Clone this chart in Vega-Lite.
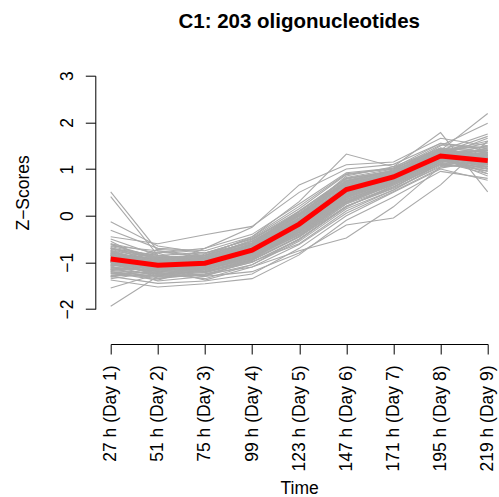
{
"$schema": "https://vega.github.io/schema/vega-lite/v6.json",
"width": 377, "height": 233.3,
"autosize": {"type": "none"},
"padding": {"left": 110.7, "top": 75.7, "right": 11.3, "bottom": 188},
"background": "white",
"title": {"text": "C1: 203 oligonucleotides", "frame": "group", "anchor": "middle", "baseline": "alphabetic", "offset": 22, "font": "Liberation Sans", "fontSize": 20.5, "fontWeight": "bold", "color": "black"},
"datasets": {
"lines": [
{"g":1,"t":1,"z":0.51},{"g":1,"t":2,"z":-0.75},{"g":1,"t":3,"z":-0.85},{"g":1,"t":4,"z":-0.55},{"g":1,"t":5,"z":0.05},{"g":1,"t":6,"z":0.70},{"g":1,"t":7,"z":0.90},{"g":1,"t":8,"z":1.30},{"g":1,"t":9,"z":1.05},
{"g":2,"t":1,"z":0.41},{"g":2,"t":2,"z":-0.85},{"g":2,"t":3,"z":-0.95},{"g":2,"t":4,"z":-0.65},{"g":2,"t":5,"z":-0.10},{"g":2,"t":6,"z":0.55},{"g":2,"t":7,"z":0.85},{"g":2,"t":8,"z":1.20},{"g":2,"t":9,"z":1.00},
{"g":3,"t":1,"z":-0.13},{"g":3,"t":2,"z":-0.65},{"g":3,"t":3,"z":-0.80},{"g":3,"t":4,"z":-0.50},{"g":3,"t":5,"z":0.10},{"g":3,"t":6,"z":0.80},{"g":3,"t":7,"z":0.95},{"g":3,"t":8,"z":1.35},{"g":3,"t":9,"z":1.15},
{"g":4,"t":1,"z":-0.31},{"g":4,"t":2,"z":-0.70},{"g":4,"t":3,"z":-0.75},{"g":4,"t":4,"z":-0.45},{"g":4,"t":5,"z":0.20},{"g":4,"t":6,"z":0.90},{"g":4,"t":7,"z":1.00},{"g":4,"t":8,"z":1.40},{"g":4,"t":9,"z":1.25},
{"g":5,"t":1,"z":-1.94},{"g":5,"t":2,"z":-1.30},{"g":5,"t":3,"z":-1.10},{"g":5,"t":4,"z":-0.80},{"g":5,"t":5,"z":-0.30},{"g":5,"t":6,"z":0.40},{"g":5,"t":7,"z":0.75},{"g":5,"t":8,"z":1.25},{"g":5,"t":9,"z":1.20},
{"g":6,"t":1,"z":-1.55},{"g":6,"t":2,"z":-1.25},{"g":6,"t":3,"z":-1.20},{"g":6,"t":4,"z":-0.95},{"g":6,"t":5,"z":-0.45},{"g":6,"t":6,"z":0.20},{"g":6,"t":7,"z":0.60},{"g":6,"t":8,"z":1.15},{"g":6,"t":9,"z":1.30},
{"g":7,"t":1,"z":-0.70},{"g":7,"t":2,"z":-0.90},{"g":7,"t":3,"z":-0.85},{"g":7,"t":4,"z":-0.45},{"g":7,"t":5,"z":0.30},{"g":7,"t":6,"z":1.32},{"g":7,"t":7,"z":1.05},{"g":7,"t":8,"z":1.45},{"g":7,"t":9,"z":1.35},
{"g":8,"t":1,"z":-1.20},{"g":8,"t":2,"z":-1.35},{"g":8,"t":3,"z":-1.25},{"g":8,"t":4,"z":-1.10},{"g":8,"t":5,"z":-0.75},{"g":8,"t":6,"z":-0.48},{"g":8,"t":7,"z":0.19},{"g":8,"t":8,"z":1.05},{"g":8,"t":9,"z":1.40},
{"g":9,"t":1,"z":-1.10},{"g":9,"t":2,"z":-1.40},{"g":9,"t":3,"z":-1.30},{"g":9,"t":4,"z":-1.20},{"g":9,"t":5,"z":-0.80},{"g":9,"t":6,"z":-0.20},{"g":9,"t":7,"z":-0.05},{"g":9,"t":8,"z":0.66},{"g":9,"t":9,"z":1.60},
{"g":10,"t":1,"z":-1.00},{"g":10,"t":2,"z":-1.10},{"g":10,"t":3,"z":-1.05},{"g":10,"t":4,"z":-0.80},{"g":10,"t":5,"z":-0.25},{"g":10,"t":6,"z":0.50},{"g":10,"t":7,"z":0.85},{"g":10,"t":8,"z":1.40},{"g":10,"t":9,"z":2.19},
{"g":11,"t":1,"z":-0.85},{"g":11,"t":2,"z":-1.00},{"g":11,"t":3,"z":-0.95},{"g":11,"t":4,"z":-0.70},{"g":11,"t":5,"z":-0.10},{"g":11,"t":6,"z":0.60},{"g":11,"t":7,"z":0.90},{"g":11,"t":8,"z":1.50},{"g":11,"t":9,"z":1.98},
{"g":12,"t":1,"z":-0.80},{"g":12,"t":2,"z":-0.95},{"g":12,"t":3,"z":-0.90},{"g":12,"t":4,"z":-0.55},{"g":12,"t":5,"z":0.00},{"g":12,"t":6,"z":0.85},{"g":12,"t":7,"z":1.05},{"g":12,"t":8,"z":1.78},{"g":12,"t":9,"z":0.51},
{"g":13,"t":1,"z":-0.60},{"g":13,"t":2,"z":-0.80},{"g":13,"t":3,"z":-0.70},{"g":13,"t":4,"z":-0.25},{"g":13,"t":5,"z":0.66},{"g":13,"t":6,"z":1.09},{"g":13,"t":7,"z":1.15},{"g":13,"t":8,"z":1.66},{"g":13,"t":9,"z":1.50},
{"g":14,"t":1,"z":-0.45},{"g":14,"t":2,"z":-0.60},{"g":14,"t":3,"z":-0.41},{"g":14,"t":4,"z":-0.23},{"g":14,"t":5,"z":0.50},{"g":14,"t":6,"z":1.00},{"g":14,"t":7,"z":1.10},{"g":14,"t":8,"z":1.55},{"g":14,"t":9,"z":1.45},
{"g":15,"t":1,"z":-1.38},{"g":15,"t":2,"z":-1.53},{"g":15,"t":3,"z":-1.46},{"g":15,"t":4,"z":-1.35},{"g":15,"t":5,"z":-0.84},{"g":15,"t":6,"z":-0.10},{"g":15,"t":7,"z":0.40},{"g":15,"t":8,"z":0.95},{"g":15,"t":9,"z":0.80},
{"g":16,"t":1,"z":-1.30},{"g":16,"t":2,"z":-1.45},{"g":16,"t":3,"z":-1.40},{"g":16,"t":4,"z":-1.25},{"g":16,"t":5,"z":-0.70},{"g":16,"t":6,"z":0.00},{"g":16,"t":7,"z":0.50},{"g":16,"t":8,"z":1.00},{"g":16,"t":9,"z":0.76},
{"g":17,"t":1,"z":-0.70},{"g":17,"t":2,"z":-0.85},{"g":17,"t":3,"z":-0.80},{"g":17,"t":4,"z":-0.50},{"g":17,"t":5,"z":0.05},{"g":17,"t":6,"z":0.75},{"g":17,"t":7,"z":0.95},{"g":17,"t":8,"z":1.40},{"g":17,"t":9,"z":1.30},
{"g":18,"t":1,"z":-0.75},{"g":18,"t":2,"z":-0.90},{"g":18,"t":3,"z":-0.88},{"g":18,"t":4,"z":-0.60},{"g":18,"t":5,"z":-0.05},{"g":18,"t":6,"z":0.70},{"g":18,"t":7,"z":0.92},{"g":18,"t":8,"z":1.35},{"g":18,"t":9,"z":1.40},
{"g":19,"t":1,"z":-0.80},{"g":19,"t":2,"z":-0.95},{"g":19,"t":3,"z":-0.92},{"g":19,"t":4,"z":-0.65},{"g":19,"t":5,"z":-0.10},{"g":19,"t":6,"z":0.62},{"g":19,"t":7,"z":0.88},{"g":19,"t":8,"z":1.32},{"g":19,"t":9,"z":1.25},
{"g":20,"t":1,"z":-0.85},{"g":20,"t":2,"z":-1.00},{"g":20,"t":3,"z":-0.98},{"g":20,"t":4,"z":-0.70},{"g":20,"t":5,"z":-0.15},{"g":20,"t":6,"z":0.58},{"g":20,"t":7,"z":0.85},{"g":20,"t":8,"z":1.30},{"g":20,"t":9,"z":1.20},
{"g":21,"t":1,"z":-0.88},{"g":21,"t":2,"z":-1.02},{"g":21,"t":3,"z":-1.00},{"g":21,"t":4,"z":-0.72},{"g":21,"t":5,"z":-0.20},{"g":21,"t":6,"z":0.52},{"g":21,"t":7,"z":0.80},{"g":21,"t":8,"z":1.25},{"g":21,"t":9,"z":1.10},
{"g":22,"t":1,"z":-0.92},{"g":22,"t":2,"z":-1.05},{"g":22,"t":3,"z":-1.03},{"g":22,"t":4,"z":-0.76},{"g":22,"t":5,"z":-0.22},{"g":22,"t":6,"z":0.50},{"g":22,"t":7,"z":0.82},{"g":22,"t":8,"z":1.28},{"g":22,"t":9,"z":1.15},
{"g":23,"t":1,"z":-0.95},{"g":23,"t":2,"z":-1.08},{"g":23,"t":3,"z":-1.05},{"g":23,"t":4,"z":-0.78},{"g":23,"t":5,"z":-0.25},{"g":23,"t":6,"z":0.45},{"g":23,"t":7,"z":0.78},{"g":23,"t":8,"z":1.22},{"g":23,"t":9,"z":1.05},
{"g":24,"t":1,"z":-1.00},{"g":24,"t":2,"z":-1.12},{"g":24,"t":3,"z":-1.08},{"g":24,"t":4,"z":-0.82},{"g":24,"t":5,"z":-0.30},{"g":24,"t":6,"z":0.40},{"g":24,"t":7,"z":0.75},{"g":24,"t":8,"z":1.20},{"g":24,"t":9,"z":1.00},
{"g":25,"t":1,"z":-1.05},{"g":25,"t":2,"z":-1.15},{"g":25,"t":3,"z":-1.12},{"g":25,"t":4,"z":-0.86},{"g":25,"t":5,"z":-0.35},{"g":25,"t":6,"z":0.35},{"g":25,"t":7,"z":0.70},{"g":25,"t":8,"z":1.18},{"g":25,"t":9,"z":0.95},
{"g":26,"t":1,"z":-1.10},{"g":26,"t":2,"z":-1.20},{"g":26,"t":3,"z":-1.15},{"g":26,"t":4,"z":-0.90},{"g":26,"t":5,"z":-0.40},{"g":26,"t":6,"z":0.30},{"g":26,"t":7,"z":0.68},{"g":26,"t":8,"z":1.15},{"g":26,"t":9,"z":0.90},
{"g":27,"t":1,"z":-1.15},{"g":27,"t":2,"z":-1.25},{"g":27,"t":3,"z":-1.20},{"g":27,"t":4,"z":-0.95},{"g":27,"t":5,"z":-0.45},{"g":27,"t":6,"z":0.25},{"g":27,"t":7,"z":0.62},{"g":27,"t":8,"z":1.10},{"g":27,"t":9,"z":1.00},
{"g":28,"t":1,"z":-1.20},{"g":28,"t":2,"z":-1.30},{"g":28,"t":3,"z":-1.25},{"g":28,"t":4,"z":-1.00},{"g":28,"t":5,"z":-0.50},{"g":28,"t":6,"z":0.20},{"g":28,"t":7,"z":0.58},{"g":28,"t":8,"z":1.05},{"g":28,"t":9,"z":1.10},
{"g":29,"t":1,"z":-1.25},{"g":29,"t":2,"z":-1.32},{"g":29,"t":3,"z":-1.28},{"g":29,"t":4,"z":-1.05},{"g":29,"t":5,"z":-0.55},{"g":29,"t":6,"z":0.15},{"g":29,"t":7,"z":0.55},{"g":29,"t":8,"z":1.12},{"g":29,"t":9,"z":1.20},
{"g":30,"t":1,"z":-0.60},{"g":30,"t":2,"z":-0.95},{"g":30,"t":3,"z":-1.10},{"g":30,"t":4,"z":-0.80},{"g":30,"t":5,"z":-0.15},{"g":30,"t":6,"z":0.65},{"g":30,"t":7,"z":0.90},{"g":30,"t":8,"z":1.30},{"g":30,"t":9,"z":1.35},
{"g":31,"t":1,"z":-0.55},{"g":31,"t":2,"z":-1.05},{"g":31,"t":3,"z":-1.15},{"g":31,"t":4,"z":-0.90},{"g":31,"t":5,"z":-0.30},{"g":31,"t":6,"z":0.45},{"g":31,"t":7,"z":0.80},{"g":31,"t":8,"z":1.25},{"g":31,"t":9,"z":1.45},
{"g":32,"t":1,"z":-0.50},{"g":32,"t":2,"z":-0.85},{"g":32,"t":3,"z":-0.95},{"g":32,"t":4,"z":-0.70},{"g":32,"t":5,"z":-0.05},{"g":32,"t":6,"z":0.72},{"g":32,"t":7,"z":0.98},{"g":32,"t":8,"z":1.38},{"g":32,"t":9,"z":1.25},
{"g":33,"t":1,"z":-1.30},{"g":33,"t":2,"z":-1.10},{"g":33,"t":3,"z":-0.95},{"g":33,"t":4,"z":-0.60},{"g":33,"t":5,"z":0.10},{"g":33,"t":6,"z":0.80},{"g":33,"t":7,"z":0.95},{"g":33,"t":8,"z":1.35},{"g":33,"t":9,"z":1.10},
{"g":34,"t":1,"z":-1.35},{"g":34,"t":2,"z":-1.20},{"g":34,"t":3,"z":-1.05},{"g":34,"t":4,"z":-0.75},{"g":34,"t":5,"z":-0.20},{"g":34,"t":6,"z":0.48},{"g":34,"t":7,"z":0.82},{"g":34,"t":8,"z":1.28},{"g":34,"t":9,"z":1.30},
{"g":35,"t":1,"z":-1.00},{"g":35,"t":2,"z":-0.80},{"g":35,"t":3,"z":-1.10},{"g":35,"t":4,"z":-0.85},{"g":35,"t":5,"z":-0.35},{"g":35,"t":6,"z":0.30},{"g":35,"t":7,"z":0.72},{"g":35,"t":8,"z":1.22},{"g":35,"t":9,"z":1.35},
{"g":36,"t":1,"z":-0.90},{"g":36,"t":2,"z":-1.30},{"g":36,"t":3,"z":-1.00},{"g":36,"t":4,"z":-0.62},{"g":36,"t":5,"z":0.00},{"g":36,"t":6,"z":0.68},{"g":36,"t":7,"z":0.88},{"g":36,"t":8,"z":1.32},{"g":36,"t":9,"z":1.15},
{"g":37,"t":1,"z":-0.82},{"g":37,"t":2,"z":-1.18},{"g":37,"t":3,"z":-1.30},{"g":37,"t":4,"z":-0.95},{"g":37,"t":5,"z":-0.28},{"g":37,"t":6,"z":0.42},{"g":37,"t":7,"z":0.78},{"g":37,"t":8,"z":1.20},{"g":37,"t":9,"z":1.05},
{"g":38,"t":1,"z":-1.08},{"g":38,"t":2,"z":-0.95},{"g":38,"t":3,"z":-0.85},{"g":38,"t":4,"z":-0.55},{"g":38,"t":5,"z":0.00},{"g":38,"t":6,"z":0.82},{"g":38,"t":7,"z":1.00},{"g":38,"t":8,"z":1.45},{"g":38,"t":9,"z":1.20},
{"g":39,"t":1,"z":-0.98},{"g":39,"t":2,"z":-1.25},{"g":39,"t":3,"z":-1.35},{"g":39,"t":4,"z":-1.05},{"g":39,"t":5,"z":-0.50},{"g":39,"t":6,"z":0.18},{"g":39,"t":7,"z":0.65},{"g":39,"t":8,"z":1.15},{"g":39,"t":9,"z":1.25},
{"g":40,"t":1,"z":-0.65},{"g":40,"t":2,"z":-0.75},{"g":40,"t":3,"z":-0.90},{"g":40,"t":4,"z":-0.62},{"g":40,"t":5,"z":-0.05},{"g":40,"t":6,"z":0.60},{"g":40,"t":7,"z":0.85},{"g":40,"t":8,"z":1.28},{"g":40,"t":9,"z":1.40},
{"g":41,"t":1,"z":-0.78},{"g":41,"t":2,"z":-1.10},{"g":41,"t":3,"z":-0.70},{"g":41,"t":4,"z":-0.40},{"g":41,"t":5,"z":0.25},{"g":41,"t":6,"z":0.92},{"g":41,"t":7,"z":1.02},{"g":41,"t":8,"z":1.42},{"g":41,"t":9,"z":1.30},
{"g":42,"t":1,"z":-1.18},{"g":42,"t":2,"z":-1.05},{"g":42,"t":3,"z":-1.12},{"g":42,"t":4,"z":-0.88},{"g":42,"t":5,"z":-0.42},{"g":42,"t":6,"z":0.28},{"g":42,"t":7,"z":0.66},{"g":42,"t":8,"z":1.10},{"g":42,"t":9,"z":1.15},
{"g":43,"t":1,"z":-1.22},{"g":43,"t":2,"z":-1.38},{"g":43,"t":3,"z":-1.10},{"g":43,"t":4,"z":-0.82},{"g":43,"t":5,"z":-0.25},{"g":43,"t":6,"z":0.50},{"g":43,"t":7,"z":0.78},{"g":43,"t":8,"z":1.22},{"g":43,"t":9,"z":1.00},
{"g":44,"t":1,"z":-0.72},{"g":44,"t":2,"z":-0.98},{"g":44,"t":3,"z":-1.05},{"g":44,"t":4,"z":-0.78},{"g":44,"t":5,"z":-0.18},{"g":44,"t":6,"z":0.55},{"g":44,"t":7,"z":0.85},{"g":44,"t":8,"z":1.35},{"g":44,"t":9,"z":1.70},
{"g":45,"t":1,"z":-0.95},{"g":45,"t":2,"z":-0.88},{"g":45,"t":3,"z":-0.98},{"g":45,"t":4,"z":-0.68},{"g":45,"t":5,"z":-0.12},{"g":45,"t":6,"z":0.62},{"g":45,"t":7,"z":0.90},{"g":45,"t":8,"z":1.30},{"g":45,"t":9,"z":0.90},
{"g":46,"t":1,"z":-1.05},{"g":46,"t":2,"z":-1.22},{"g":46,"t":3,"z":-0.92},{"g":46,"t":4,"z":-0.70},{"g":46,"t":5,"z":-0.08},{"g":46,"t":6,"z":0.60},{"g":46,"t":7,"z":0.82},{"g":46,"t":8,"z":1.25},{"g":46,"t":9,"z":1.35},
{"g":47,"t":1,"z":-0.85},{"g":47,"t":2,"z":-1.15},{"g":47,"t":3,"z":-1.18},{"g":47,"t":4,"z":-0.85},{"g":47,"t":5,"z":-0.32},{"g":47,"t":6,"z":0.38},{"g":47,"t":7,"z":0.72},{"g":47,"t":8,"z":1.18},{"g":47,"t":9,"z":1.25},
{"g":48,"t":1,"z":-1.12},{"g":48,"t":2,"z":-0.98},{"g":48,"t":3,"z":-1.00},{"g":48,"t":4,"z":-0.65},{"g":48,"t":5,"z":-0.05},{"g":48,"t":6,"z":0.70},{"g":48,"t":7,"z":0.92},{"g":48,"t":8,"z":1.38},{"g":48,"t":9,"z":1.10},
{"g":49,"t":1,"z":-0.75},{"g":49,"t":2,"z":-1.08},{"g":49,"t":3,"z":-1.00},{"g":49,"t":4,"z":-0.72},{"g":49,"t":5,"z":-0.20},{"g":49,"t":6,"z":0.52},{"g":49,"t":7,"z":0.88},{"g":49,"t":8,"z":1.32},{"g":49,"t":9,"z":1.20},
{"g":50,"t":1,"z":-1.28},{"g":50,"t":2,"z":-1.28},{"g":50,"t":3,"z":-1.22},{"g":50,"t":4,"z":-0.98},{"g":50,"t":5,"z":-0.60},{"g":50,"t":6,"z":0.10},{"g":50,"t":7,"z":0.55},{"g":50,"t":8,"z":1.08},{"g":50,"t":9,"z":1.05},
{"g":51,"t":1,"z":-0.90},{"g":51,"t":2,"z":-0.78},{"g":51,"t":3,"z":-0.88},{"g":51,"t":4,"z":-0.52},{"g":51,"t":5,"z":0.08},{"g":51,"t":6,"z":0.78},{"g":51,"t":7,"z":0.98},{"g":51,"t":8,"z":1.52},{"g":51,"t":9,"z":1.35},
{"g":52,"t":1,"z":-1.02},{"g":52,"t":2,"z":-1.12},{"g":52,"t":3,"z":-1.38},{"g":52,"t":4,"z":-1.10},{"g":52,"t":5,"z":-0.62},{"g":52,"t":6,"z":0.05},{"g":52,"t":7,"z":0.52},{"g":52,"t":8,"z":1.02},{"g":52,"t":9,"z":1.20},
{"g":53,"t":1,"z":-0.68},{"g":53,"t":2,"z":-1.02},{"g":53,"t":3,"z":-0.96},{"g":53,"t":4,"z":-0.66},{"g":53,"t":5,"z":-0.10},{"g":53,"t":6,"z":0.66},{"g":53,"t":7,"z":0.90},{"g":53,"t":8,"z":1.36},{"g":53,"t":9,"z":1.60},
{"g":54,"t":1,"z":-1.15},{"g":54,"t":2,"z":-1.02},{"g":54,"t":3,"z":-0.90},{"g":54,"t":4,"z":-0.75},{"g":54,"t":5,"z":-0.22},{"g":54,"t":6,"z":0.46},{"g":54,"t":7,"z":0.78},{"g":54,"t":8,"z":1.26},{"g":54,"t":9,"z":1.45},
{"g":55,"t":1,"z":-0.98},{"g":55,"t":2,"z":-1.20},{"g":55,"t":3,"z":-1.08},{"g":55,"t":4,"z":-0.86},{"g":55,"t":5,"z":-0.38},{"g":55,"t":6,"z":0.32},{"g":55,"t":7,"z":0.74},{"g":55,"t":8,"z":1.30},{"g":55,"t":9,"z":1.18},
{"g":56,"t":1,"z":-0.88},{"g":56,"t":2,"z":-0.92},{"g":56,"t":3,"z":-1.02},{"g":56,"t":4,"z":-0.74},{"g":56,"t":5,"z":-0.16},{"g":56,"t":6,"z":0.56},{"g":56,"t":7,"z":0.84},{"g":56,"t":8,"z":1.24},{"g":56,"t":9,"z":0.85},
{"g":57,"t":1,"z":-0.62},{"g":57,"t":2,"z":-0.90},{"g":57,"t":3,"z":-1.20},{"g":57,"t":4,"z":-0.92},{"g":57,"t":5,"z":-0.35},{"g":57,"t":6,"z":0.35},{"g":57,"t":7,"z":0.70},{"g":57,"t":8,"z":1.20},{"g":57,"t":9,"z":1.30},
{"g":58,"t":1,"z":-1.32},{"g":58,"t":2,"z":-1.15},{"g":58,"t":3,"z":-1.00},{"g":58,"t":4,"z":-0.70},{"g":58,"t":5,"z":-0.12},{"g":58,"t":6,"z":0.62},{"g":58,"t":7,"z":0.86},{"g":58,"t":8,"z":1.30},{"g":58,"t":9,"z":1.25},
{"g":59,"t":1,"z":-0.80},{"g":59,"t":2,"z":-1.35},{"g":59,"t":3,"z":-1.12},{"g":59,"t":4,"z":-0.80},{"g":59,"t":5,"z":-0.22},{"g":59,"t":6,"z":0.48},{"g":59,"t":7,"z":0.80},{"g":59,"t":8,"z":1.24},{"g":59,"t":9,"z":1.12},
{"g":60,"t":1,"z":-1.08},{"g":60,"t":2,"z":-0.72},{"g":60,"t":3,"z":-0.80},{"g":60,"t":4,"z":-0.58},{"g":60,"t":5,"z":0.02},{"g":60,"t":6,"z":0.74},{"g":60,"t":7,"z":0.95},{"g":60,"t":8,"z":1.40},{"g":60,"t":9,"z":1.75},
{"g":61,"t":1,"z":-0.92},{"g":61,"t":2,"z":-1.18},{"g":61,"t":3,"z":-0.82},{"g":61,"t":4,"z":-0.48},{"g":61,"t":5,"z":0.15},{"g":61,"t":6,"z":0.88},{"g":61,"t":7,"z":1.02},{"g":61,"t":8,"z":1.55},{"g":61,"t":9,"z":1.40},
{"g":62,"t":1,"z":-0.96},{"g":62,"t":2,"z":-1.10},{"g":62,"t":3,"z":-1.06},{"g":62,"t":4,"z":-0.80},{"g":62,"t":5,"z":-0.24},{"g":62,"t":6,"z":0.52},{"g":62,"t":7,"z":0.82},{"g":62,"t":8,"z":1.30},{"g":62,"t":9,"z":1.22},
{"g":63,"t":1,"z":-0.90},{"g":63,"t":2,"z":-1.04},{"g":63,"t":3,"z":-0.98},{"g":63,"t":4,"z":-0.70},{"g":63,"t":5,"z":-0.14},{"g":63,"t":6,"z":0.60},{"g":63,"t":7,"z":0.86},{"g":63,"t":8,"z":1.30},{"g":63,"t":9,"z":1.16},
{"g":64,"t":1,"z":-1.04},{"g":64,"t":2,"z":-1.14},{"g":64,"t":3,"z":-1.10},{"g":64,"t":4,"z":-0.84},{"g":64,"t":5,"z":-0.28},{"g":64,"t":6,"z":0.46},{"g":64,"t":7,"z":0.78},{"g":64,"t":8,"z":1.24},{"g":64,"t":9,"z":1.12},
{"g":65,"t":1,"z":-0.84},{"g":65,"t":2,"z":-0.98},{"g":65,"t":3,"z":-0.96},{"g":65,"t":4,"z":-0.68},{"g":65,"t":5,"z":-0.12},{"g":65,"t":6,"z":0.64},{"g":65,"t":7,"z":0.88},{"g":65,"t":8,"z":1.34},{"g":65,"t":9,"z":1.28},
{"g":66,"t":1,"z":-1.12},{"g":66,"t":2,"z":-1.18},{"g":66,"t":3,"z":-1.14},{"g":66,"t":4,"z":-0.90},{"g":66,"t":5,"z":-0.36},{"g":66,"t":6,"z":0.38},{"g":66,"t":7,"z":0.74},{"g":66,"t":8,"z":1.22},{"g":66,"t":9,"z":1.26},
{"g":67,"t":1,"z":-0.78},{"g":67,"t":2,"z":-0.96},{"g":67,"t":3,"z":-0.94},{"g":67,"t":4,"z":-0.64},{"g":67,"t":5,"z":-0.06},{"g":67,"t":6,"z":0.68},{"g":67,"t":7,"z":0.92},{"g":67,"t":8,"z":1.36},{"g":67,"t":9,"z":1.32},
{"g":68,"t":1,"z":-1.18},{"g":68,"t":2,"z":-1.24},{"g":68,"t":3,"z":-1.18},{"g":68,"t":4,"z":-0.94},{"g":68,"t":5,"z":-0.44},{"g":68,"t":6,"z":0.30},{"g":68,"t":7,"z":0.70},{"g":68,"t":8,"z":1.18},{"g":68,"t":9,"z":1.08},
{"g":69,"t":1,"z":-0.70},{"g":69,"t":2,"z":-0.92},{"g":69,"t":3,"z":-0.90},{"g":69,"t":4,"z":-0.60},{"g":69,"t":5,"z":0.02},{"g":69,"t":6,"z":0.74},{"g":69,"t":7,"z":0.94},{"g":69,"t":8,"z":1.38},{"g":69,"t":9,"z":1.36},
{"g":70,"t":1,"z":-0.94},{"g":70,"t":2,"z":-1.14},{"g":70,"t":3,"z":-1.12},{"g":70,"t":4,"z":-0.82},{"g":70,"t":5,"z":-0.26},{"g":70,"t":6,"z":0.50},{"g":70,"t":7,"z":0.80},{"g":70,"t":8,"z":1.26},{"g":70,"t":9,"z":1.30},
{"g":71,"t":1,"z":-1.06},{"g":71,"t":2,"z":-1.02},{"g":71,"t":3,"z":-0.98},{"g":71,"t":4,"z":-0.72},{"g":71,"t":5,"z":-0.16},{"g":71,"t":6,"z":0.58},{"g":71,"t":7,"z":0.86},{"g":71,"t":8,"z":1.32},{"g":71,"t":9,"z":1.10},
{"g":72,"t":1,"z":-0.86},{"g":72,"t":2,"z":-1.08},{"g":72,"t":3,"z":-1.04},{"g":72,"t":4,"z":-0.76},{"g":72,"t":5,"z":-0.22},{"g":72,"t":6,"z":0.54},{"g":72,"t":7,"z":0.84},{"g":72,"t":8,"z":1.28},{"g":72,"t":9,"z":1.42},
{"g":73,"t":1,"z":-1.00},{"g":73,"t":2,"z":-1.00},{"g":73,"t":3,"z":-0.94},{"g":73,"t":4,"z":-0.66},{"g":73,"t":5,"z":-0.08},{"g":73,"t":6,"z":0.64},{"g":73,"t":7,"z":0.90},{"g":73,"t":8,"z":1.34},{"g":73,"t":9,"z":1.28},
{"g":74,"t":1,"z":-0.76},{"g":74,"t":2,"z":-1.12},{"g":74,"t":3,"z":-1.08},{"g":74,"t":4,"z":-0.84},{"g":74,"t":5,"z":-0.30},{"g":74,"t":6,"z":0.44},{"g":74,"t":7,"z":0.78},{"g":74,"t":8,"z":1.24},{"g":74,"t":9,"z":1.18},
{"g":75,"t":1,"z":-1.14},{"g":75,"t":2,"z":-1.16},{"g":75,"t":3,"z":-1.06},{"g":75,"t":4,"z":-0.78},{"g":75,"t":5,"z":-0.20},{"g":75,"t":6,"z":0.54},{"g":75,"t":7,"z":0.82},{"g":75,"t":8,"z":1.28},{"g":75,"t":9,"z":1.50},
{"g":76,"t":1,"z":-0.82},{"g":76,"t":2,"z":-0.94},{"g":76,"t":3,"z":-1.08},{"g":76,"t":4,"z":-0.80},{"g":76,"t":5,"z":-0.26},{"g":76,"t":6,"z":0.48},{"g":76,"t":7,"z":0.80},{"g":76,"t":8,"z":1.30},{"g":76,"t":9,"z":1.02},
{"g":77,"t":1,"z":-1.24},{"g":77,"t":2,"z":-1.22},{"g":77,"t":3,"z":-1.16},{"g":77,"t":4,"z":-0.92},{"g":77,"t":5,"z":-0.40},{"g":77,"t":6,"z":0.34},{"g":77,"t":7,"z":0.72},{"g":77,"t":8,"z":1.20},{"g":77,"t":9,"z":1.22},
{"g":78,"t":1,"z":-0.66},{"g":78,"t":2,"z":-0.88},{"g":78,"t":3,"z":-0.86},{"g":78,"t":4,"z":-0.58},{"g":78,"t":5,"z":0.04},{"g":78,"t":6,"z":0.76},{"g":78,"t":7,"z":0.96},{"g":78,"t":8,"z":1.42},{"g":78,"t":9,"z":1.48},
{"g":79,"t":1,"z":-0.98},{"g":79,"t":2,"z":-1.06},{"g":79,"t":3,"z":-1.22},{"g":79,"t":4,"z":-0.96},{"g":79,"t":5,"z":-0.46},{"g":79,"t":6,"z":0.26},{"g":79,"t":7,"z":0.68},{"g":79,"t":8,"z":1.16},{"g":79,"t":9,"z":1.14},
{"g":80,"t":1,"z":-1.02},{"g":80,"t":2,"z":-1.26},{"g":80,"t":3,"z":-1.14},{"g":80,"t":4,"z":-0.88},{"g":80,"t":5,"z":-0.32},{"g":80,"t":6,"z":0.42},{"g":80,"t":7,"z":0.76},{"g":80,"t":8,"z":1.22},{"g":80,"t":9,"z":1.34},
{"g":81,"t":1,"z":-0.88},{"g":81,"t":2,"z":-0.86},{"g":81,"t":3,"z":-0.92},{"g":81,"t":4,"z":-0.62},{"g":81,"t":5,"z":-0.02},{"g":81,"t":6,"z":0.72},{"g":81,"t":7,"z":0.94},{"g":81,"t":8,"z":1.40},{"g":81,"t":9,"z":1.24},
{"g":82,"t":1,"z":-1.16},{"g":82,"t":2,"z":-1.10},{"g":82,"t":3,"z":-1.02},{"g":82,"t":4,"z":-0.74},{"g":82,"t":5,"z":-0.18},{"g":82,"t":6,"z":0.56},{"g":82,"t":7,"z":0.84},{"g":82,"t":8,"z":1.34},{"g":82,"t":9,"z":1.56},
{"g":83,"t":1,"z":-0.74},{"g":83,"t":2,"z":-1.04},{"g":83,"t":3,"z":-1.14},{"g":83,"t":4,"z":-0.86},{"g":83,"t":5,"z":-0.34},{"g":83,"t":6,"z":0.40},{"g":83,"t":7,"z":0.76},{"g":83,"t":8,"z":1.26},{"g":83,"t":9,"z":1.08},
{"g":84,"t":1,"z":-0.96},{"g":84,"t":2,"z":-0.96},{"g":84,"t":3,"z":-0.90},{"g":84,"t":4,"z":-0.60},{"g":84,"t":5,"z":0.00},{"g":84,"t":6,"z":0.70},{"g":84,"t":7,"z":0.92},{"g":84,"t":8,"z":1.44},{"g":84,"t":9,"z":1.38},
{"g":85,"t":1,"z":-1.08},{"g":85,"t":2,"z":-1.30},{"g":85,"t":3,"z":-1.26},{"g":85,"t":4,"z":-1.00},{"g":85,"t":5,"z":-0.52},{"g":85,"t":6,"z":0.20},{"g":85,"t":7,"z":0.62},{"g":85,"t":8,"z":1.12},{"g":85,"t":9,"z":0.96},
{"g":86,"t":1,"z":-0.82},{"g":86,"t":2,"z":-1.00},{"g":86,"t":3,"z":-1.10},{"g":86,"t":4,"z":-0.78},{"g":86,"t":5,"z":-0.20},{"g":86,"t":6,"z":0.54},{"g":86,"t":7,"z":0.84},{"g":86,"t":8,"z":1.28},{"g":86,"t":9,"z":1.66}
],
"mean": [
{"t":1,"z":-0.93},{"t":2,"z":-1.06},{"t":3,"z":-1.02},{"t":4,"z":-0.74},{"t":5,"z":-0.18},{"t":6,"z":0.56},{"t":7,"z":0.83},{"t":8,"z":1.28},{"t":9,"z":1.18}
]
},
"encoding": {
"x": {"field": "t", "type": "quantitative", "scale": {"domain": [1, 9], "nice": false, "zero": false},
 "axis": {"title": "Time", "values": [1,2,3,4,5,6,7,8,9], "offset": 35, "grid": false, "tickSize": 10, "tickColor": "black", "domainColor": "black",
  "labelExpr": "['27 h (Day 1)','51 h (Day 2)','75 h (Day 3)','99 h (Day 4)','123 h (Day 5)','147 h (Day 6)','171 h (Day 7)','195 h (Day 8)','219 h (Day 9)'][datum.value - 1]",
  "labelAngle": 270, "labelAlign": "right", "labelBaseline": "middle", "labelPadding": 11, "labelFlush": false, "labelOverlap": false, "labelBound": false,
  "labelFont": "Liberation Sans", "labelFontSize": 17.5, "labelColor": "black",
  "titleFont": "Liberation Sans", "titleFontSize": 17.5, "titleFontWeight": "normal", "titleColor": "black", "titleBaseline": "alphabetic", "titleY": 149}},
"y": {"field": "z", "type": "quantitative", "scale": {"domain": [-2, 3], "nice": false, "zero": false},
 "axis": {"title": "Z−Scores", "values": [-2,-1,0,1,2,3], "format": "d", "offset": 15.4, "grid": false, "tickSize": 10, "tickColor": "black", "domainColor": "black",
  "labelAngle": 270, "labelAlign": "center", "labelBaseline": "alphabetic", "labelPadding": 13, "labelFlush": false, "labelOverlap": false,
  "labelFont": "Liberation Sans", "labelFontSize": 17.5, "labelColor": "black",
  "titleFont": "Liberation Sans", "titleFontSize": 17.5, "titleFontWeight": "normal", "titleColor": "black", "titleAngle": 270, "titleAlign": "center", "titleBaseline": "alphabetic", "titleX": -67, "titleY": 116.65}}
},
"layer": [
{"data": {"name": "lines"}, "mark": {"type": "line", "color": "#A9A9A9", "strokeWidth": 1.1}, "encoding": {"detail": {"field": "g", "type": "nominal"}}},
{"data": {"name": "mean"}, "mark": {"type": "line", "color": "#FF0000", "strokeWidth": 5}, "encoding": {}}
],
"config": {"view": {"stroke": null}}
}
